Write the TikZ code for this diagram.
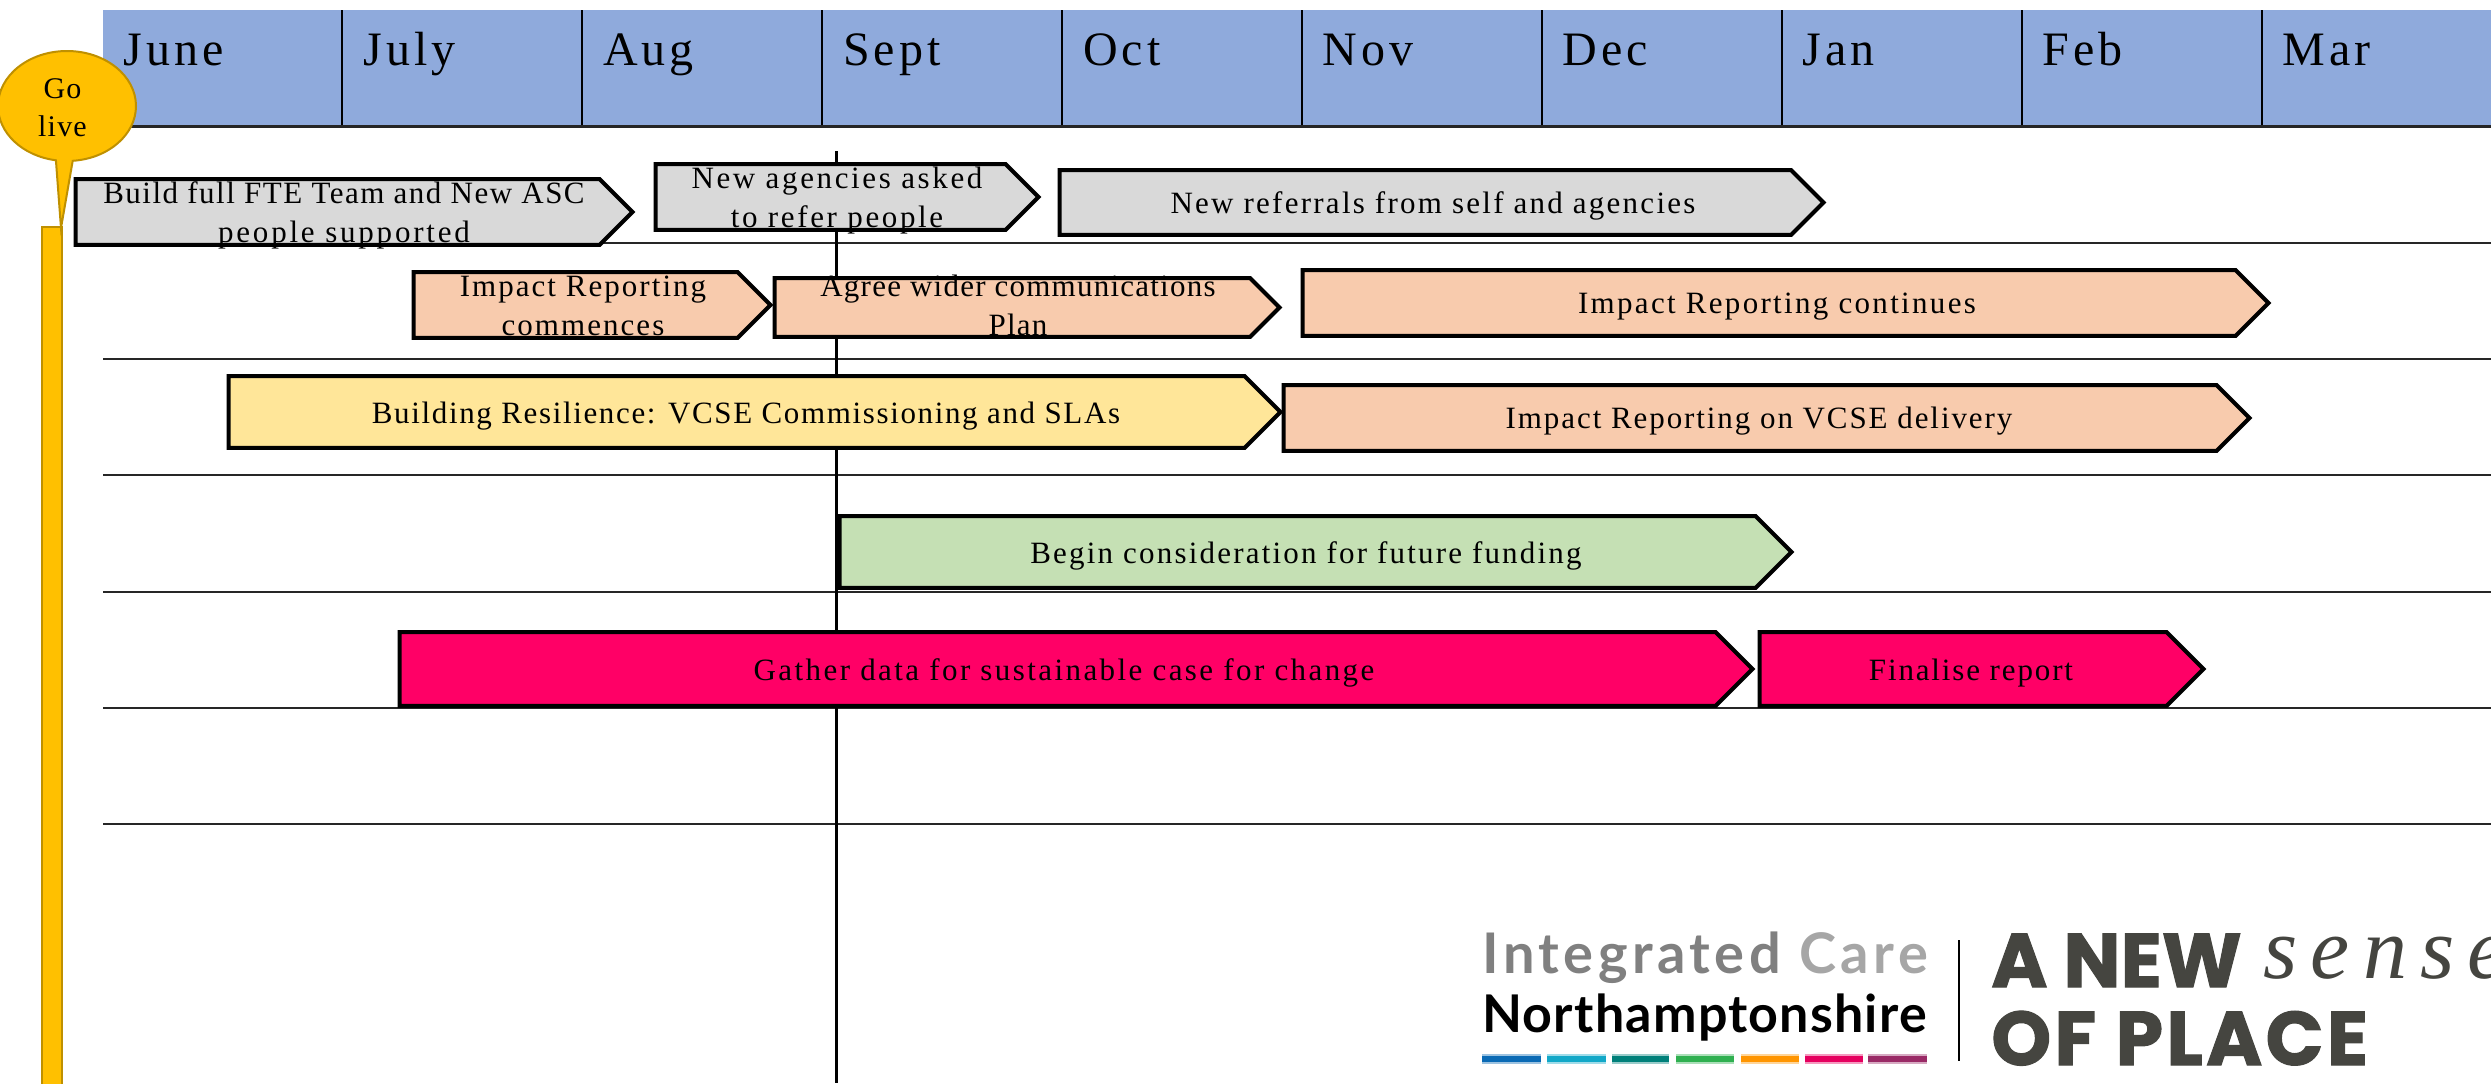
\documentclass[tikz,border=0pt]{standalone}
\usepackage{fontspec}
\setmainfont{Liberation Serif}[LetterSpace=4]
\newfontfamily\logofont{Lato}
\newfontfamily\placefont{Poppins}
\newfontfamily\sensefont{Liberation Serif}
\usetikzlibrary{calc, positioning, shapes.symbols, shapes.callouts}

\definecolor{headblue}{HTML}{8FAADC}
\definecolor{taskgrey}{HTML}{D9D9D9}
\definecolor{taskpeach}{HTML}{F8CBAD}
\definecolor{taskyellow}{HTML}{FFE699}
\definecolor{taskgreen}{HTML}{C5E0B4}
\definecolor{taskpink}{HTML}{FF0066}
\definecolor{pinorange}{HTML}{FFC000}
\definecolor{pinedge}{HTML}{BF9000}
\definecolor{placegrey}{HTML}{454540}

\begin{document}
\begin{tikzpicture}[
    x=0.5pt, y=-0.5pt,
    cell/.style={fill=headblue, minimum width=119.95pt, minimum height=58pt, inner sep=0pt, outer sep=0pt, anchor=north west},
    month_font/.style={font=\fontsize{24}{28}\selectfont\addfontfeature{LetterSpace=8.5}, anchor=base west, inner sep=0pt},
    rowline/.style={line width=1.2pt, black!85},
    phase/.style={draw=black, line width=2pt, signal, signal to=east, signal pointer angle=90, inner sep=0pt, outer sep=0pt, anchor=west},
    phase_text/.style={font=\fontsize{15.5}{19.5}\selectfont\addfontfeature{LetterSpace=#1}, align=center, anchor=base, inner sep=0pt},
    logo_text/.style={anchor=base west, inner sep=0pt}
]
    \useasboundingbox (0,0) rectangle (2491,1083);
    \clip (0,0) rectangle (2491,1083);

    % Month header
    \foreach \m [count=\i] in {June,July,Aug,Sept,Oct,Nov,Dec,Jan,Feb,Mar} {
        \node[cell] (cell\i) at ({102.5+239.9*(\i-1)}, 10) {};
        \node[month_font] (month\i) at ({123+239.9*(\i-1)}, 65) {\m};
    }
    \foreach \i in {1,...,9} {
        \draw[line width=1pt] (cell\i.north east) -- (cell\i.south east);
    }
    \draw[line width=1.5pt, black!85] (cell1.south west) -- (cell10.south east);

    % Rows and the today line
    \foreach \y in {243,359,475,592,708,824} {
        \draw[rowline] (103,\y) -- (2491,\y);
    }
    \draw[line width=1.5pt] (836,151) -- (836,1083);

    % Go live pin
    \fill[pinorange, draw=pinedge, line width=1pt] (42,227) rectangle (62,1090);
    \coordinate (pintip) at (61,228);
    \node[ellipse callout, fill=pinorange, draw=pinedge, line width=1pt, minimum width=69pt, minimum height=55pt, inner sep=0pt,
        callout absolute pointer=(pintip), callout pointer arc=14] (golive) at (67,106) {};
    \node[font=\fontsize{15}{19}\selectfont, align=center, anchor=base, inner sep=0pt] (golivetext) at (62.5,136) {Go\\live};

    % Row 1
    \node[phase, fill=taskgrey, minimum width=278.5pt, minimum height=32.8pt] (build) at (75.5,212) {};
    \node[phase_text=4.8] (buildtext) at (344,242) {Build full FTE Team and New ASC\\{\addfontfeature{LetterSpace=9}people supported}};
    \node[phase, fill=taskgrey, minimum width=191.5pt, minimum height=32.8pt] (asked) at (655.5,197) {};
    \node[phase_text=8.5] (askedtext) at (837,227) {New agencies asked\\to refer people};
    \node[phase, fill=taskgrey, minimum width=382pt, minimum height=32.3pt] (referrals) at (1059.5,202.5) {};
    \node[phase_text=7.3] (referralstext) at (1433,213) {New referrals from self and agencies};

    % Row 2
    \node[phase, fill=taskpeach, minimum width=178.5pt, minimum height=32.8pt] (commences) at (413.5,305) {};
    \node[phase_text=6.6] (commencestext) at (583,335) {Impact Reporting\\commences};
    \node[phase, fill=taskpeach, minimum width=252.5pt, minimum height=29.3pt] (plan) at (774.5,307.5) {};
    \node[phase_text=4] (plantext) at (1018,335) {Agree wider communications\\Plan};
    \node[phase, fill=taskpeach, minimum width=483pt, minimum height=32.8pt] (continues) at (1302.5,303) {};
    \node[phase_text=7.5] (continuestext) at (1777,313) {Impact Reporting continues};

    % Row 3
    \node[phase, fill=taskyellow, minimum width=526pt, minimum height=35.8pt] (resilience) at (228.5,412) {};
    \node[phase_text=5.3] (resiliencetext) at (746,423) {Building Resilience: VCSE Commissioning and SLAs};
    \node[phase, fill=taskpeach, minimum width=483pt, minimum height=32.8pt] (delivery) at (1283.5,418) {};
    \node[phase_text=6.2] (deliverytext) at (1759,428) {Impact Reporting on VCSE delivery};

    % Row 4
    \node[phase, fill=taskgreen, minimum width=476pt, minimum height=35.8pt] (funding) at (839.5,552) {};
    \node[phase_text=7.1] (fundingtext) at (1306,563) {Begin consideration for future funding};

    % Row 5
    \node[phase, fill=taskpink, minimum width=676.5pt, minimum height=36.8pt] (gather) at (399.5,669) {};
    \node[phase_text=7.8] (gathertext) at (1064,680) {Gather data for sustainable case for change};
    \node[phase, fill=taskpink, minimum width=222pt, minimum height=36.8pt] (finalise) at (1759.5,669) {};
    \node[phase_text=6] (finalisetext) at (1971,680) {Finalise report};

    % Logo
    \node[logo_text, font=\logofont\bfseries\fontsize{28}{30}\selectfont\addfontfeature{LetterSpace=8}, text=black!50] (integrated) at (1482,973) {Integrated \textcolor{black!35}{Care}};
    \node[logo_text, font=\logofont\bfseries\fontsize{26}{30}\selectfont\addfontfeature{LetterSpace=2.3}] (northants) at (1482,1032) {Northamptonshire};
    \foreach \a/\b/\c in {1482/1541/0A6AB5, 1547/1606/12A8C8, 1612/1669/00807A, 1676/1734/2FB050, 1741/1799/FF9500, 1805/1863/E5005F, 1868/1927/9A2A66} {
        \definecolor{barcol}{HTML}{\c}
        \fill[barcol!40] (\a,1054) rectangle (\b,1064);
        \fill[barcol] (\a,1056) rectangle (\b,1062);
    }
    \draw[line width=1.2pt] (1959,940) -- (1959,1061);
    \node[logo_text, font=\placefont\bfseries\fontsize{38}{40}\selectfont\addfontfeature{FakeBold=1.5}, text=placegrey] (anew) at (1991,987) {A NEW};
    \node[logo_text, font=\placefont\bfseries\fontsize{38}{40}\selectfont\addfontfeature{FakeBold=1.5,LetterSpace=4.5}, text=placegrey] (ofplace) at (1991,1065) {OF PLACE};
    \node[logo_text, font=\sensefont\itshape\fontsize{44}{46}\selectfont\addfontfeature{LetterSpace=15}, text=placegrey] (sense) at (2263,978) {sense};
\end{tikzpicture}
\end{document}
